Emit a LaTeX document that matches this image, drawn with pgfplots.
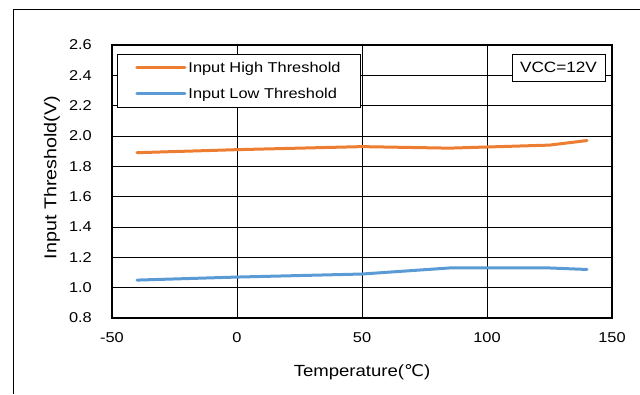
\documentclass[border=0pt]{standalone}
\usepackage{pgfplots}
\pgfplotsset{compat=1.18}
\usepackage{fontspec}
\setmainfont{Liberation Sans}[FakeStretch=1.15]
\newfontfamily\dejavu{DejaVu Sans}[FakeStretch=1.1]
\definecolor{xlorange}{HTML}{ED7D31}
\definecolor{xlblue}{HTML}{5B9BD5}
\begin{document}
\begin{tikzpicture}[x=1bp,y=1bp]
\useasboundingbox (0,0) rectangle (640,-394);
\draw[line width=1bp] (13,-394) -- (13,-9) -- (640,-9);
\begin{axis}[
  at={(112bp,-318bp)}, anchor=south west,
  scale only axis, width=500bp, height=273bp,
  xmin=-50, xmax=150, ymin=0.8, ymax=2.6,
  xtick={-50,0,50,100,150},
  ytick={0.8,1.0,1.2,1.4,1.6,1.8,2.0,2.2,2.4,2.6},
  grid=major,
  major grid style={black, line width=1bp},
  axis line style={black, line width=1.3bp},
  tick style={draw=none},
  /pgf/number format/assume math mode=true,
  ticklabel style={font=\fontsize{14.3}{17}\selectfont},
  xticklabel style={anchor=center, yshift=-20bp},
  yticklabel style={anchor=east, inner sep=0pt, xshift=-20bp,
    /pgf/number format/fixed, /pgf/number format/fixed zerofill,
    /pgf/number format/precision=1},
  xlabel={Temperature({\dejavu ℃})},
  ylabel={Input Threshold(V)},
  xlabel style={font=\fontsize{16.2}{18}\selectfont, at={(axis description cs:0.5,-0.197)}, anchor=center},
  ylabel style={font=\fontsize{17.2}{20}\selectfont, at={(axis description cs:-0.12,0.515)}, anchor=center},
  legend style={at={(axis description cs:0.01,0.967)}, anchor=north west,
    draw=black, line width=0.9bp, fill=white,
    font=\fontsize{14.3}{17}\selectfont,
    inner xsep=18bp, inner ysep=5.5bp, row sep=10bp,
    nodes={inner sep=2bp}},
  legend cell align=left,
  legend image code/.code={\draw[#1, line width=3bp] (0bp,0bp) -- (48bp,0bp);},
]
\addplot[xlorange, line width=3bp, line join=round, line cap=round] coordinates {
  (-40,1.89) (0,1.91) (50,1.93) (85,1.92) (125,1.94) (140,1.97)};
\addlegendentry{Input High Threshold}
\addplot[xlblue, line width=3bp, line join=round, line cap=round] coordinates {
  (-40,1.05) (0,1.07) (50,1.09) (85,1.13) (125,1.13) (140,1.12)};
\addlegendentry{Input Low Threshold}
\node[draw=black, line width=0.9bp, fill=white, minimum width=93bp, minimum height=27bp,
  inner sep=0pt, font=\fontsize{15}{18}\selectfont] at (axis cs:128.6,2.452) {VCC=12V};
\end{axis}
\end{tikzpicture}
\end{document}
